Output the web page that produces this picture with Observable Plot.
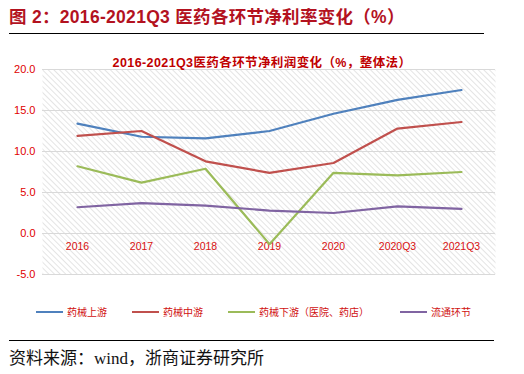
<!DOCTYPE html>
<html>
<head>
<meta charset="utf-8">
<script src="https://cdn.jsdelivr.net/npm/d3@7"></script>
<script src="https://cdn.jsdelivr.net/npm/@observablehq/plot@0.6"></script>
<style>
  html, body { margin: 0; padding: 0; background: #fff; }
  #page { position: relative; width: 524px; height: 374px; overflow: hidden; font-family: "Noto Sans CJK SC", "Liberation Sans", sans-serif; }
  #header { position: absolute; left: 9px; top: 3px; font-size: 17.5px; font-weight: bold; color: #b3121f; font-family: "Liberation Sans", "Noto Sans CJK SC", sans-serif; white-space: nowrap; letter-spacing: 0.3px; }
  #rule1 { position: absolute; left: 9px; top: 33px; width: 475px; height: 0; border-top: 1.5px solid #000; }
  #ctitle { position: absolute; left: 0; width: 524px; top: 52px; text-align: center; font-size: 12.5px; font-weight: bold; color: #c00000; font-family: "Liberation Sans", "Noto Sans CJK SC", sans-serif; white-space: nowrap; letter-spacing: 0.4px; }
  #chart { position: absolute; left: 0; top: 45px; }
  #legend { position: absolute; left: 0; top: 304px; width: 524px; height: 16px; }
  .item { position: absolute; top: 0; font-size: 10px; color: #d01010; white-space: nowrap; line-height: 16px; }
  .sw { display: inline-block; width: 27px; height: 0; border-top: 2px solid; vertical-align: middle; margin-right: 4px; position: relative; top: -1px; }
  #rule2 { position: absolute; left: 9px; top: 340px; width: 485px; height: 0; border-top: 1.5px solid #000; }
  #source { position: absolute; left: 9px; top: 344px; font-size: 17px; color: #111; font-family: "Liberation Serif", "Noto Sans CJK SC", serif; white-space: nowrap; }
</style>
</head>
<body>
<div id="page">
  <div id="header">图 2：2016-2021Q3 医药各环节净利率变化（%）</div>
  <div id="rule1"></div>
  <div id="chart"></div>
  <div id="ctitle">2016-2021Q3医药各环节净利润变化（%，整体法）</div>
  <div id="legend"></div>
  <div id="rule2"></div>
  <div id="source">资料来源：wind，浙商证券研究所</div>
</div>
<script>
const periods = ["2016", "2017", "2018", "2019", "2020", "2020Q3", "2021Q3"];
const upstream = [13.4, 11.8, 11.6, 12.5, 14.6, 16.3, 17.5];
const midstream = [11.9, 12.5, 8.8, 7.4, 8.6, 12.8, 13.6];
const downstream = [8.2, 6.2, 7.9, -1.3, 7.4, 7.1, 7.5];
const distribution = [3.2, 3.7, 3.4, 2.8, 2.5, 3.3, 3.0];
const seriesNames = ["药械上游", "药械中游", "药械下游（医院、药店）", "流通环节"];
const seriesColors = ["#4f81bd", "#c0504d", "#9bbb59", "#8064a2"];
const yTicks = [-5, 0, 5, 10, 15, 20];

const seriesValues = [upstream, midstream, downstream, distribution];
const rows = [];
seriesValues.forEach((vals, si) => {
  vals.forEach((v, i) => rows.push({period: periods[i], value: v, series: seriesNames[si]}));
});

const chart = Plot.plot({
  width: 524,
  height: 245,
  marginLeft: 42,
  marginRight: 29,
  marginTop: 24,
  marginBottom: 16,
  style: {background: "transparent", fontFamily: "Liberation Sans, Arial, sans-serif"},
  x: {type: "point", domain: periods, padding: 0.5, axis: null},
  y: {domain: [-5, 20], axis: null},
  color: {domain: seriesNames, range: seriesColors},
  marks: [
    Plot.frame({fill: "url(#hatch)", stroke: null}),
    Plot.ruleY(yTicks, {stroke: "#d9d9d9", strokeWidth: 1}),
    Plot.axisY({ticks: yTicks, tickFormat: d => d.toFixed(1), tickSize: 0, tickPadding: 7, fill: "#e00000", fontSize: 11, label: null}),
    Plot.text(periods, {x: d => d, y: 0, dy: 13, text: d => d, fill: "#d81010", fontSize: 10.5}),
    Plot.line(rows, {x: "period", y: "value", z: "series", stroke: "series", strokeWidth: 2.2, curve: "linear"})
  ]
});

// hatch pattern definition (lines running top-left to bottom-right)
const ns = "http://www.w3.org/2000/svg";
const defs = document.createElementNS(ns, "defs");
defs.innerHTML = '<pattern id="hatch" patternUnits="userSpaceOnUse" width="4" height="4" patternTransform="rotate(-45)"><rect width="4" height="4" fill="#ffffff"/><line x1="0" y1="0" x2="0" y2="4" stroke="#dedede" stroke-width="1.6"/></pattern>';
chart.insertBefore(defs, chart.firstChild);
document.getElementById("chart").appendChild(chart);

// legend
const legendPos = [36, 132, 228, 400];
const legend = document.getElementById("legend");
seriesNames.forEach((name, i) => {
  const it = document.createElement("div");
  it.className = "item";
  it.style.left = legendPos[i] + "px";
  it.innerHTML = '<span class="sw" style="border-color:' + seriesColors[i] + '"></span>' + name;
  legend.appendChild(it);
});
</script>
</body>
</html>
